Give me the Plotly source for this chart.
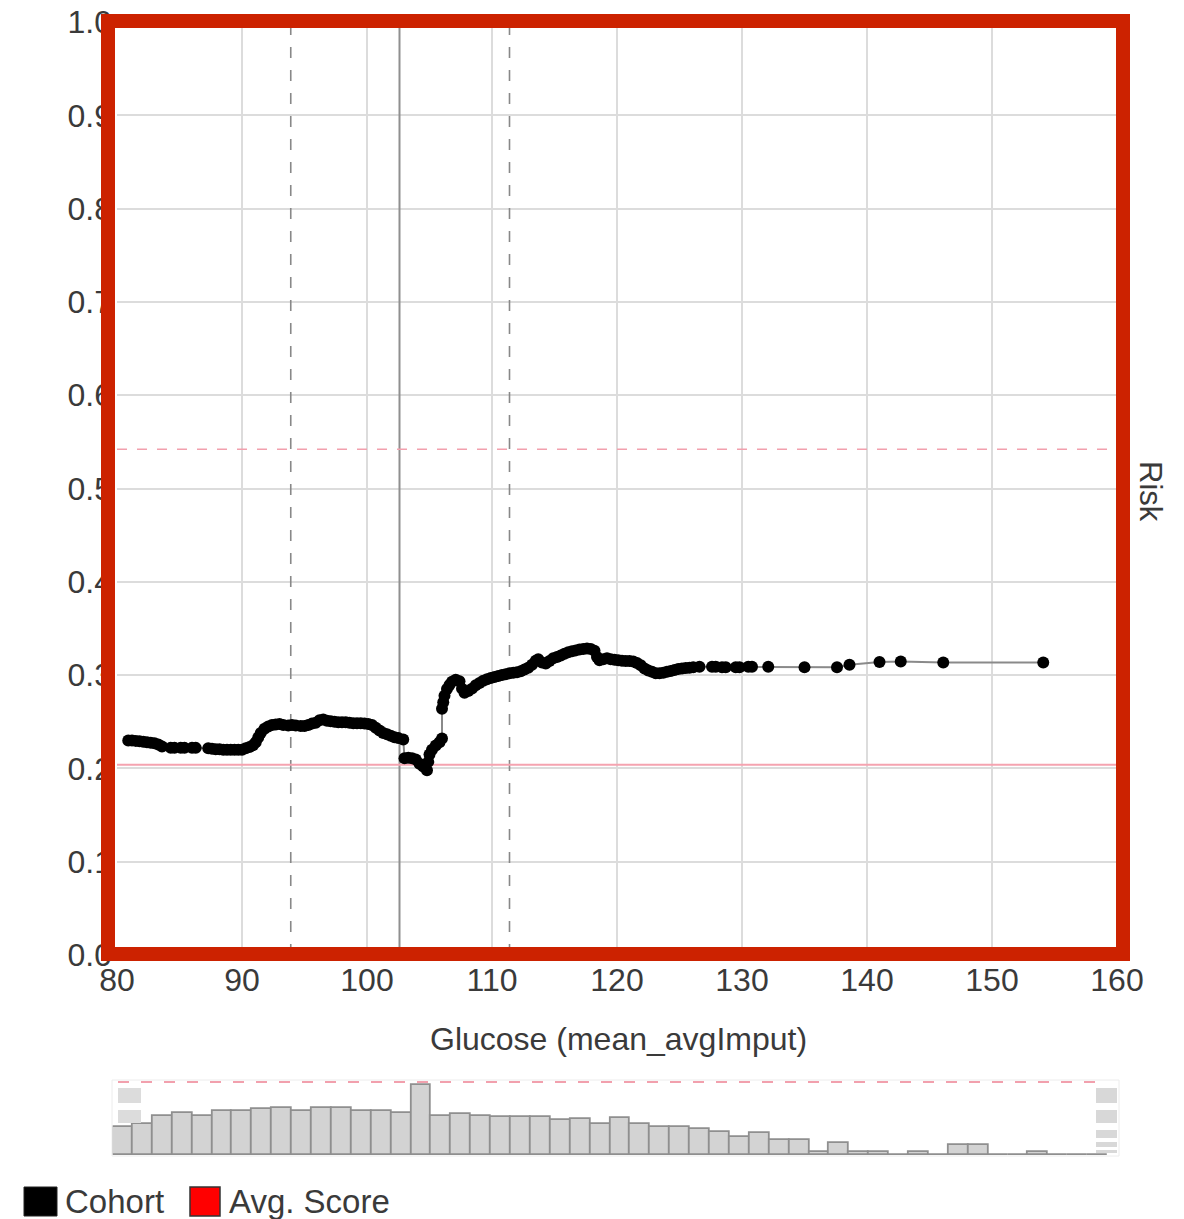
import plotly.graph_objects as go

# page body has an 8px margin, so the figure is drawn 8px in from the window corner
PAGE_OFFSET = 8
W, H = 1184 - PAGE_OFFSET, 1219 - PAGE_OFFSET

# ---------------- data ----------------
glucose = [
    80.9, 81.2, 81.5, 81.8, 82.1, 82.4, 82.7, 83.0, 83.3, 83.6,
    84.3, 84.6, 85.1, 85.4, 86.0, 86.3, 87.3, 87.6, 87.9, 88.2,
    88.5, 88.8, 89.1, 89.4, 89.7, 90.0, 90.3, 90.6, 90.9, 91.1,
    91.3, 91.5, 91.8, 92.1, 92.4, 92.7, 93.0, 93.3, 93.7, 94.0,
    94.3, 94.7, 95.0, 95.3, 95.6, 95.9, 96.2, 96.5, 96.8, 97.1,
    97.4, 97.7, 98.0, 98.3, 98.6, 98.9, 99.2, 99.5, 99.8, 100.1,
    100.4, 100.7, 101.0, 101.3, 101.6, 101.9, 102.2, 102.5, 102.9,
    103.0, 103.3, 103.6, 103.9, 104.2, 104.5, 104.8, 104.9, 105.0, 105.2,
    105.5, 105.8, 106.0, 106.0, 106.1, 106.2, 106.4, 106.6, 106.8, 107.1,
    107.4, 107.6, 107.8, 108.1, 108.4, 108.7, 109.0, 109.3, 109.6, 109.9,
    110.2, 110.5, 110.8, 111.1, 111.4, 111.7, 112.0, 112.3, 112.6, 112.9,
    113.2, 113.5, 113.7, 114.0, 114.3, 114.6, 114.9, 115.2, 115.5, 115.8,
    116.1, 116.4, 116.7, 117.0, 117.3, 117.6, 117.9, 118.2, 118.4, 118.6,
    118.9, 119.2, 119.5, 119.8, 120.1, 120.4, 120.7, 121.0, 121.3, 121.6,
    121.9, 122.2, 122.5, 122.8, 123.1, 123.4, 123.7, 124.0, 124.3, 124.6,
    124.9, 125.2, 125.5, 125.8, 126.1, 126.6, 127.6, 127.9, 128.4, 128.7,
    129.5, 129.8, 130.5, 130.8, 132.1, 135.0, 137.6, 138.6, 141.0, 142.7,
    146.1, 154.1,
]
risk = [
    0.2300, 0.2300, 0.2295, 0.2290, 0.2285, 0.2280, 0.2275, 0.2270, 0.2255, 0.2235,
    0.2220, 0.2220, 0.2220, 0.2220, 0.2220, 0.2220, 0.2215, 0.2210, 0.2205, 0.2205,
    0.2200, 0.2200, 0.2200, 0.2200, 0.2200, 0.2200, 0.2215, 0.2230, 0.2250, 0.2280,
    0.2330, 0.2380, 0.2425, 0.2450, 0.2465, 0.2470, 0.2475, 0.2465, 0.2460, 0.2465,
    0.2460, 0.2455, 0.2455, 0.2465, 0.2480, 0.2490, 0.2515, 0.2525, 0.2510, 0.2505,
    0.2500, 0.2495, 0.2495, 0.2495, 0.2490, 0.2485, 0.2485, 0.2485, 0.2480, 0.2475,
    0.2465, 0.2435, 0.2405, 0.2380, 0.2365, 0.2350, 0.2335, 0.2325, 0.2310,
    0.2110, 0.2115, 0.2110, 0.2095, 0.2050, 0.2020, 0.1980, 0.2070, 0.2150, 0.2200,
    0.2245, 0.2280, 0.2320, 0.2640, 0.2710, 0.2780, 0.2850, 0.2895, 0.2930, 0.2950,
    0.2935, 0.2855, 0.2810, 0.2830, 0.2855, 0.2890, 0.2915, 0.2940, 0.2955, 0.2970,
    0.2980, 0.2990, 0.3000, 0.3010, 0.3020, 0.3025, 0.3030, 0.3040, 0.3060, 0.3080,
    0.3110, 0.3155, 0.3170, 0.3135, 0.3125, 0.3150, 0.3180, 0.3195, 0.3210, 0.3230,
    0.3245, 0.3255, 0.3265, 0.3275, 0.3280, 0.3285, 0.3280, 0.3260, 0.3195, 0.3160,
    0.3170, 0.3180, 0.3170, 0.3165, 0.3160, 0.3155, 0.3150, 0.3150, 0.3145, 0.3130,
    0.3105, 0.3070, 0.3050, 0.3035, 0.3020, 0.3020, 0.3025, 0.3035, 0.3045, 0.3055,
    0.3065, 0.3070, 0.3075, 0.3080, 0.3085, 0.3090, 0.3090, 0.3090, 0.3085, 0.3085,
    0.3085, 0.3085, 0.3090, 0.3090, 0.3090, 0.3085, 0.3085, 0.3110, 0.3140, 0.3145,
    0.3135, 0.3135,
]

# histogram of the cohort (50 bins over 80..160)
hist_start = 80.0
hist_bin_width = 1.6
hist_counts = [
    28, 31, 39, 42, 39, 44, 44, 46, 47, 44,
    47, 47, 44, 44, 42, 70, 39, 41, 39, 38,
    38, 38, 35, 36, 31, 37, 31, 28, 28, 26,
    23, 18, 22, 15, 15, 3, 12, 3, 3, 0,
    3, 0, 10, 10, 0, 0, 3, 0, 0, 0,
]

x_ticks = [80, 90, 100, 110, 120, 130, 140, 150, 160]
y_ticks = [0.0, 0.1, 0.2, 0.3, 0.4, 0.5, 0.6, 0.7, 0.8, 0.9, 1.0]
y_tick_labels = ["0.0", "0.1", "0.2", "0.3", "0.4", "0.5", "0.6", "0.7", "0.8", "0.9", "1.0"]

ref_dashed_x = [93.9, 111.4]
ref_solid_x = 102.6
avg_score_dashed = 0.542
avg_score_solid = 0.204

x_title = "Glucose (mean_avgImput)"
y_title = "Risk"
legend_labels = ["Cohort", "Avg. Score"]
legend_colors = ["#000000", "#ff0000"]

# ---------------- helpers (window pixel -> paper) ----------------
def px(x):
    return (x - PAGE_OFFSET) / W

def py(y):
    return 1 - (y - PAGE_OFFSET) / H

FONT = "Liberation Sans, Arial, Helvetica, sans-serif"
TXT = "#3a3a3a"

fig = go.Figure()

fig.add_trace(go.Scatter(
    x=glucose, y=risk, mode="lines+markers",
    line=dict(color="#8a8a8a", width=2),
    marker=dict(color="black", size=12),
    xaxis="x", yaxis="y", showlegend=False, hoverinfo="x+y",
))

centers = [hist_start + hist_bin_width * (i + 0.5) for i in range(len(hist_counts))]
fig.add_trace(go.Bar(
    x=centers, y=hist_counts, width=hist_bin_width,
    marker=dict(color="#d3d3d3", line=dict(color="#8f8f8f", width=1.8)),
    xaxis="x2", yaxis="y2", showlegend=False,
))

shapes = []
for xv in ref_dashed_x:
    shapes.append(dict(type="line", xref="x", yref="y", x0=xv, x1=xv, y0=0, y1=1,
                       line=dict(color="#888888", width=1.6, dash="11px,12px"), layer="between"))
shapes.append(dict(type="line", xref="x", yref="y", x0=ref_solid_x, x1=ref_solid_x, y0=0, y1=1,
                   line=dict(color="#8f8f8f", width=2), layer="between"))
shapes.append(dict(type="line", xref="x", yref="y", x0=80, x1=160, y0=avg_score_dashed, y1=avg_score_dashed,
                   line=dict(color="#f2a0ad", width=1.5, dash="10px,10px"), layer="between"))
shapes.append(dict(type="line", xref="x", yref="y", x0=80, x1=160, y0=avg_score_solid, y1=avg_score_solid,
                   line=dict(color="#f5a3b0", width=2), layer="between"))

# histogram panel decorations
shapes.append(dict(type="rect", xref="paper", yref="paper", x0=px(112), x1=px(1119), y0=py(1156), y1=py(1080),
                   line=dict(color="#ececec", width=1), layer="below"))
shapes.append(dict(type="line", xref="paper", yref="paper", x0=px(118), x1=px(1107), y0=py(1082), y1=py(1082),
                   line=dict(color="#f2a0ad", width=2, dash="11px,12px")))
for (a, b) in [(1088, 1103), (1110, 1123)]:
    shapes.append(dict(type="rect", xref="paper", yref="paper", x0=px(118), x1=px(141), y0=py(b), y1=py(a),
                       fillcolor="#dcdcdc", line=dict(width=0)))
for (a, b) in [(1088, 1103), (1110, 1123), (1130, 1138), (1142, 1147), (1150, 1153)]:
    shapes.append(dict(type="rect", xref="paper", yref="paper", x0=px(1096), x1=px(1117), y0=py(b), y1=py(a),
                       fillcolor="#d8d8d8", line=dict(width=0)))

# hand-drawn looking red frame
shapes.append(dict(type="rect", xref="paper", yref="paper", x0=px(108), x1=px(1123), y0=py(954), y1=py(21),
                   line=dict(color="#cc2200", width=14)))
shapes.append(dict(type="rect", xref="paper", yref="paper", x0=px(104), x1=px(1127), y0=py(958), y1=py(17),
                   line=dict(color="rgba(204,34,0,0.5)", width=4)))
shapes.append(dict(type="rect", xref="paper", yref="paper", x0=px(112), x1=px(1119), y0=py(950), y1=py(25),
                   line=dict(color="rgba(204,34,0,0.5)", width=4)))

# legend swatches
shapes.append(dict(type="rect", xref="paper", yref="paper", x0=px(24), x1=px(57), y0=py(1216), y1=py(1187),
                   fillcolor=legend_colors[0], line=dict(color="#222", width=1)))
shapes.append(dict(type="rect", xref="paper", yref="paper", x0=px(190), x1=px(220), y0=py(1216), y1=py(1187),
                   fillcolor=legend_colors[1], line=dict(color="#333", width=1.5)))

annotations = [
    dict(text=x_title, xref="paper", yref="paper", x=px(618), y=py(1039), showarrow=False,
         xanchor="center", yanchor="middle", font=dict(family=FONT, size=32, color=TXT)),
    dict(text=y_title, xref="paper", yref="paper", x=px(1151), y=py(491), showarrow=False,
         textangle=90, xanchor="center", yanchor="middle", font=dict(family=FONT, size=31, color=TXT)),
    dict(text=legend_labels[0], xref="paper", yref="paper", x=px(63), y=py(1201), showarrow=False,
         xanchor="left", yanchor="middle", font=dict(family=FONT, size=33, color=TXT)),
    dict(text=legend_labels[1], xref="paper", yref="paper", x=px(227), y=py(1201), showarrow=False,
         xanchor="left", yanchor="middle", font=dict(family=FONT, size=33, color=TXT)),
]

fig.update_layout(
    width=W, height=H,
    margin=dict(l=0, r=0, t=0, b=0, autoexpand=False),
    paper_bgcolor="white", plot_bgcolor="white",
    font=dict(family=FONT, color=TXT),
    showlegend=False,
    bargap=0,
    xaxis=dict(domain=[px(117), px(1117)], range=[80, 160], tickvals=x_ticks,
               showgrid=True, gridcolor="#dcdcdc", gridwidth=2, zeroline=False, showline=False,
               ticks="", ticklabelstandoff=3, ticklabeloverflow="allow",
               tickfont=dict(family=FONT, size=32, color=TXT),
               anchor="y", fixedrange=True),
    yaxis=dict(domain=[py(955), py(22)], range=[0, 1], tickvals=y_ticks, ticktext=y_tick_labels,
               showgrid=True, gridcolor="#dcdcdc", gridwidth=2, zeroline=False, showline=False,
               ticks="", ticklabelstandoff=4, ticklabeloverflow="allow",
               tickfont=dict(family=FONT, size=32, color=TXT),
               anchor="x", fixedrange=True),
    xaxis2=dict(domain=[px(112.7), px(1107.7)], range=[80, 160], visible=False, anchor="y2"),
    yaxis2=dict(domain=[py(1155), py(1082)], range=[0, 73], visible=False, anchor="x2"),
    shapes=shapes,
    annotations=annotations,
)

fig.write_html("out.html")
